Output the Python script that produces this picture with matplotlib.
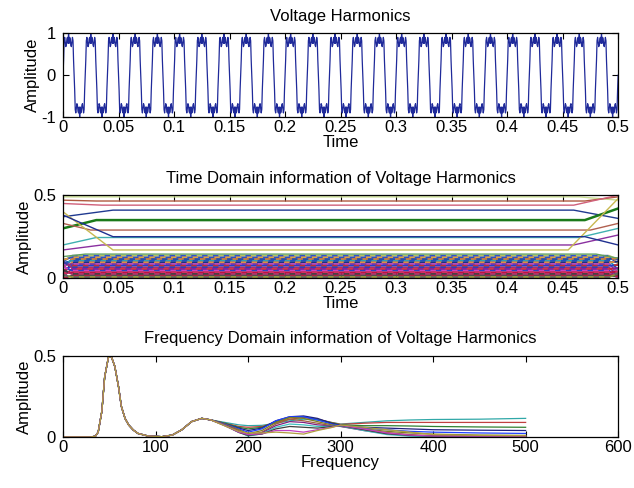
import numpy as np
import matplotlib
matplotlib.use('Agg')
import matplotlib.pyplot as plt

plt.rcParams['font.family'] = ['Liberation Sans', 'DejaVu Sans']
plt.rcParams['font.size'] = 12

# --- top panel: one 50 Hz cycle of the distorted voltage (0.5 ms samples) ---
cycle = [0.0, 0.35, 0.82, 0.9, 0.78, 0.68, 0.72, 0.86, 0.9, 0.76,
         1.0, 0.76, 0.9, 0.86, 0.72, 0.68, 0.78, 0.9, 0.82, 0.35,
         0.0, -0.35, -0.82, -0.9, -0.78, -0.68, -0.72, -0.86, -0.9, -0.76,
         -1.0, -0.76, -0.9, -0.86, -0.72, -0.68, -0.78, -0.9, -0.82, -0.35]
n_cycles = 25
t_end = 0.5

time_ticks = [0, 0.05, 0.1, 0.15, 0.2, 0.25, 0.3, 0.35, 0.4, 0.45, 0.5]
time_labels = ['0', '0.05', '0.1', '0.15', '0.2', '0.25', '0.3', '0.35', '0.4', '0.45', '0.5']

# --- middle panel: harmonic envelopes ---
# upper lines: start value, settle time, steady level, leave time, end value
env_start = [0.49, 0.47, 0.45, 0.37, 0.30, 0.33, 0.20, 0.17, 0.40, 0.13, 0.38]
env_settle = [0.04, 0.03, 0.035, 0.045, 0.03, 0.025, 0.03, 0.035, 0.045, 0.02, 0.045]
env_level = [0.49, 0.465, 0.44, 0.41, 0.35, 0.29, 0.245, 0.2, 0.17, 0.145, 0.25]
env_leave = [0.465, 0.47, 0.46, 0.46, 0.47, 0.475, 0.465, 0.46, 0.455, 0.48, 0.47]
env_end = [0.47, 0.49, 0.5, 0.36, 0.42, 0.33, 0.3, 0.26, 0.48, 0.12, 0.2]
env_colors = ['#c8dc90', '#b05a40', '#d0607a', '#203a90', '#1a7a1a', '#b06050',
              '#40b0b0', '#8a30a0', '#c8b850', '#60a060', '#203090']
env_widths = [1.0, 1.0, 1.0, 1.0, 1.8, 1.0, 1.0, 1.0, 1.0, 1.0, 1.0]

# dense band of small harmonics
band_level = [0.135, 0.125, 0.115, 0.105, 0.095, 0.085, 0.075, 0.065,
              0.055, 0.045, 0.035, 0.025, 0.015, 0.006]
band_start = [0.10, 0.11, 0.06, 0.09, 0.02, 0.08, 0.04, 0.10,
              0.01, 0.07, 0.03, 0.05, 0.0, 0.02]
band_end = [0.11, 0.09, 0.12, 0.05, 0.10, 0.03, 0.08, 0.01,
            0.06, 0.0, 0.04, 0.02, 0.01, 0.03]
band_base = ['#b8c060', '#3050c0', '#2040a0', '#30a0b0', '#203080', '#8030a0',
             '#2040d0', '#a03070', '#d02030', '#3040c0', '#c01040', '#b02060',
             '#505050', '#909030']
band_dash = ['#3050d0', '#e0a040', '#e08030', '#2050c0', '#e09040', '#c050c0',
             '#c03030', '#3040b0', '#8020a0', '#d040c0', '#d03060', '#404040',
             '#b02040', '#606060']

# --- bottom panel: spectra ---
head_freq = [0, 30, 35, 38, 42, 45, 49, 52, 56, 60, 63, 67, 71, 76, 81,
             92, 107, 118, 128, 139, 150]
head_amp = [0.0, 0.0, 0.005, 0.03, 0.16, 0.37, 0.49, 0.5, 0.435, 0.31, 0.19,
            0.115, 0.074, 0.043, 0.022, 0.006, 0.002, 0.012, 0.043, 0.095, 0.115]
tail_freq = [160, 175, 190, 200, 215, 230, 245, 260, 275, 290, 300,
             325, 350, 375, 400, 450, 500]
tail_amp = [
    [0.105, 0.09, 0.075, 0.07, 0.072, 0.085, 0.1, 0.11, 0.105, 0.09, 0.08, 0.09, 0.1, 0.105, 0.108, 0.11, 0.115],
    [0.105, 0.085, 0.065, 0.06, 0.065, 0.09, 0.11, 0.12, 0.11, 0.09, 0.078, 0.085, 0.09, 0.09, 0.09, 0.09, 0.09],
    [0.105, 0.085, 0.06, 0.05, 0.06, 0.095, 0.12, 0.125, 0.11, 0.088, 0.075, 0.07, 0.07, 0.068, 0.065, 0.062, 0.06],
    [0.105, 0.08, 0.055, 0.04, 0.055, 0.1, 0.125, 0.13, 0.115, 0.085, 0.072, 0.06, 0.055, 0.05, 0.045, 0.042, 0.04],
    [0.105, 0.08, 0.05, 0.03, 0.05, 0.1, 0.125, 0.125, 0.105, 0.08, 0.07, 0.055, 0.045, 0.035, 0.03, 0.025, 0.022],
    [0.105, 0.078, 0.045, 0.02, 0.04, 0.09, 0.12, 0.115, 0.095, 0.075, 0.068, 0.05, 0.035, 0.025, 0.018, 0.012, 0.01],
    [0.105, 0.075, 0.04, 0.012, 0.03, 0.08, 0.11, 0.1, 0.085, 0.07, 0.066, 0.045, 0.028, 0.015, 0.008, 0.005, 0.005],
    [0.105, 0.075, 0.035, 0.008, 0.025, 0.07, 0.095, 0.09, 0.075, 0.068, 0.065, 0.04, 0.02, 0.008, 0.004, 0.003, 0.003],
    [0.105, 0.072, 0.03, 0.006, 0.02, 0.06, 0.08, 0.075, 0.065, 0.066, 0.068, 0.04, 0.015, 0.005, 0.002, 0.002, 0.002],
    [0.105, 0.07, 0.028, 0.01, 0.018, 0.05, 0.065, 0.06, 0.055, 0.064, 0.07, 0.045, 0.02, 0.01, 0.005, 0.004, 0.004],
    [0.105, 0.07, 0.03, 0.015, 0.02, 0.04, 0.04, 0.03, 0.045, 0.06, 0.072, 0.05, 0.025, 0.012, 0.006, 0.005, 0.005],
    [0.105, 0.068, 0.035, 0.025, 0.025, 0.03, 0.025, 0.018, 0.04, 0.058, 0.074, 0.06, 0.045, 0.03, 0.015, 0.01, 0.008],
]
spec_colors = ['#30a8a8', '#c04040', '#308030', '#202080', '#2040ff', '#808020',
               '#a06040', '#802080', '#40c0c0', '#404040', '#c040c0', '#b0a040']
freq_ticks = [0, 100, 200, 300, 400, 500, 600]


def matlab_style(ax):
    ax.tick_params(direction='in', top=True, right=True, length=4, width=0.8,
                   labelsize=12)
    ax.tick_params(axis='x', pad=2)
    ax.tick_params(axis='y', pad=5)
    for s in ax.spines.values():
        s.set_linewidth(0.9)


fig = plt.figure(figsize=(6.34, 4.88), dpi=100)

# top: voltage waveform
ax1 = fig.add_axes([0.0994, 0.760, 0.8756, 0.172])
wave = np.append(np.tile(cycle, n_cycles), cycle[0])
t = np.linspace(0, t_end, len(wave))
ax1.plot(t, wave, color='#1f2a9a', lw=0.9)
ax1.set_xlim(0, 0.5)
ax1.set_ylim(-1, 1)
ax1.set_xticks(time_ticks, time_labels)
ax1.set_yticks([-1, 0, 1], ['-1', '0', '1'])
ax1.set_title('Voltage Harmonics', fontsize=12, pad=9)
ax1.set_xlabel('Time', labelpad=0)
ax1.set_ylabel('Amplitude', labelpad=1)
matlab_style(ax1)

# middle: time domain envelopes
ax2 = fig.add_axes([0.0994, 0.430, 0.8756, 0.170])
for i in range(len(band_level)):
    xs = [0, 0.008, 0.492, 0.5]
    ys = [band_start[i], band_level[i], band_level[i], band_end[i]]
    ax2.plot(xs, ys, color=band_base[i], lw=1.3)
    ax2.plot(xs, ys, color=band_dash[i], lw=1.3, dashes=(3, 3),
             dash_capstyle='butt')
for i in range(len(env_level)):
    xs = [0, env_settle[i], env_leave[i], 0.5]
    ys = [env_start[i], env_level[i], env_level[i], env_end[i]]
    ax2.plot(xs, ys, color=env_colors[i], lw=env_widths[i])
ax2.set_xlim(0, 0.5)
ax2.set_ylim(0, 0.5)
ax2.set_xticks(time_ticks, time_labels)
ax2.set_yticks([0, 0.5], ['0', '0.5'])
ax2.set_title('Time Domain information of Voltage Harmonics', fontsize=12, pad=9)
ax2.set_xlabel('Time', labelpad=0)
ax2.set_ylabel('Amplitude', labelpad=1)
matlab_style(ax2)

# bottom: frequency domain
ax3 = fig.add_axes([0.0994, 0.1045, 0.8756, 0.166])
for i, tail in enumerate(tail_amp):
    f = head_freq + tail_freq
    a = head_amp + tail
    ax3.plot(f, a, color=spec_colors[i % len(spec_colors)], lw=0.9)
ax3.set_xlim(0, 600)
ax3.set_ylim(0, 0.5)
ax3.set_xticks(freq_ticks, [str(v) for v in freq_ticks])
ax3.set_yticks([0, 0.5], ['0', '0.5'])
ax3.set_title('Frequency Domain information of Voltage Harmonics', fontsize=12, pad=9)
ax3.set_xlabel('Frequency', labelpad=0)
ax3.set_ylabel('Amplitude', labelpad=1)
matlab_style(ax3)

fig.savefig('out.png', dpi=100)
